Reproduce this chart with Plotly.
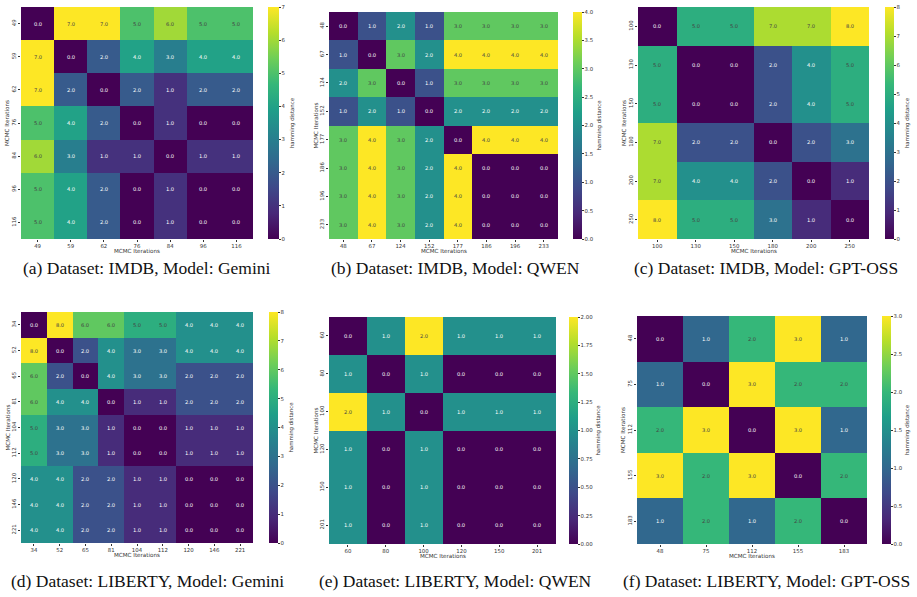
import plotly.graph_objects as go

W, H = 917, 597

a_labels = ["49", "59", "62", "76", "84", "96", "116"]
a_vals = [
    [0, 7, 7, 5, 6, 5, 5],
    [7, 0, 2, 4, 3, 4, 4],
    [7, 2, 0, 2, 1, 2, 2],
    [5, 4, 2, 0, 1, 0, 0],
    [6, 3, 1, 1, 0, 1, 1],
    [5, 4, 2, 0, 1, 0, 0],
    [5, 4, 2, 0, 1, 0, 0],
]

b_labels = ["48", "67", "124", "152", "177", "186", "196", "233"]
b_vals = [
    [0, 1, 2, 1, 3, 3, 3, 3],
    [1, 0, 3, 2, 4, 4, 4, 4],
    [2, 3, 0, 1, 3, 3, 3, 3],
    [1, 2, 1, 0, 2, 2, 2, 2],
    [3, 4, 3, 2, 0, 4, 4, 4],
    [3, 4, 3, 2, 4, 0, 0, 0],
    [3, 4, 3, 2, 4, 0, 0, 0],
    [3, 4, 3, 2, 4, 0, 0, 0],
]

c_labels = ["100", "130", "150", "180", "200", "250"]
c_vals = [
    [0, 5, 5, 7, 7, 8],
    [5, 0, 0, 2, 4, 5],
    [5, 0, 0, 2, 4, 5],
    [7, 2, 2, 0, 2, 3],
    [7, 4, 4, 2, 0, 1],
    [8, 5, 5, 3, 1, 0],
]

d_labels = ["34", "52", "65", "81", "104", "112", "120", "146", "221"]
d_vals = [
    [0, 8, 6, 6, 5, 5, 4, 4, 4],
    [8, 0, 2, 4, 3, 3, 4, 4, 4],
    [6, 2, 0, 4, 3, 3, 2, 2, 2],
    [6, 4, 4, 0, 1, 1, 2, 2, 2],
    [5, 3, 3, 1, 0, 0, 1, 1, 1],
    [5, 3, 3, 1, 0, 0, 1, 1, 1],
    [4, 4, 2, 2, 1, 1, 0, 0, 0],
    [4, 4, 2, 2, 1, 1, 0, 0, 0],
    [4, 4, 2, 2, 1, 1, 0, 0, 0],
]

e_labels = ["60", "80", "100", "120", "150", "201"]
e_vals = [
    [0, 1, 2, 1, 1, 1],
    [1, 0, 1, 0, 0, 0],
    [2, 1, 0, 1, 1, 1],
    [1, 0, 1, 0, 0, 0],
    [1, 0, 1, 0, 0, 0],
    [1, 0, 1, 0, 0, 0],
]

f_labels = ["48", "75", "112", "155", "183"]
f_vals = [
    [0, 1, 2, 3, 1],
    [1, 0, 3, 2, 2],
    [2, 3, 0, 3, 1],
    [3, 2, 3, 0, 2],
    [1, 2, 1, 2, 0],
]

captions = [
    "(a) Dataset: IMDB, Model: Gemini",
    "(b) Dataset: IMDB, Model: QWEN",
    "(c) Dataset: IMDB, Model: GPT-OSS",
    "(d) Dataset: LIBERTY, Model: Gemini",
    "(e) Dataset: LIBERTY, Model: QWEN",
    "(f) Dataset: LIBERTY, Model: GPT-OSS",
]

cbar_ticks = [
    ([0, 1, 2, 3, 4, 5, 6, 7], "%d"),
    ([0, 0.5, 1, 1.5, 2, 2.5, 3, 3.5, 4], "%.1f"),
    ([0, 1, 2, 3, 4, 5, 6, 7, 8], "%d"),
    ([0, 1, 2, 3, 4, 5, 6, 7, 8], "%d"),
    ([0, 0.25, 0.5, 0.75, 1, 1.25, 1.5, 1.75, 2], "%.2f"),
    ([0, 0.5, 1, 1.5, 2, 2.5, 3], "%.1f"),
]

panels = [
    (a_labels, a_vals),
    (b_labels, b_vals),
    (c_labels, c_vals),
    (d_labels, d_vals),
    (e_labels, e_vals),
    (f_labels, f_vals),
]

# geometry in pixels: heatmap (x0, x1, y0, y1), colorbar (x0, width)
geom = [
    ((21, 253, 7, 239), (268, 11)),
    ((329, 558, 12, 239), (573, 9)),
    ((638, 869, 7, 239), (885, 9)),
    ((21, 253, 312, 543), (269, 9)),
    ((329, 556, 317, 544), (569, 9)),
    ((637, 867, 316, 544), (882, 9)),
]
caption_pos = [(147, 268), (455, 268), (766, 268), (147, 581), (455, 581), (766, 581)]

TICKFONT = dict(family="DejaVu Sans", size=5.4, color="#333333")

fig = go.Figure()
annotations = []

for i, ((labels, vals), ((x0, x1, y0, y1), (cbx, cbw))) in enumerate(zip(panels, geom)):
    n = i + 1
    ax = "" if n == 1 else str(n)
    tickvals, fmt = cbar_ticks[i]
    ticktext = [fmt % t for t in tickvals]
    zmax = max(max(r) for r in vals)
    fig.add_trace(go.Heatmap(
        z=vals, x=labels, y=labels,
        xaxis="x" + ax, yaxis="y" + ax,
        coloraxis="coloraxis" + ax,
        texttemplate="%{z:.1f}",
        textfont=dict(family="DejaVu Sans", size=5.2),
        hoverinfo="skip",
    ))
    fig.update_layout(**{
        "xaxis" + ax: dict(
            domain=[x0 / W, x1 / W], anchor="y" + ax, type="category",
            showgrid=False, zeroline=False, showline=False,
            ticks="outside", ticklen=2, tickwidth=0.6, tickcolor="#333333",
            tickfont=TICKFONT, tickangle=0,
        ),
        "yaxis" + ax: dict(
            domain=[1 - y1 / H, 1 - y0 / H], anchor="x" + ax, type="category",
            autorange="reversed",
            showgrid=False, zeroline=False, showline=False,
            ticks="outside", ticklen=2, tickwidth=0.6, tickcolor="#333333",
            tickfont=TICKFONT, tickangle=-90,
        ),
        "coloraxis" + ax: dict(
            colorscale="Viridis", cmin=0, cmax=zmax,
            colorbar=dict(
                x=cbx / W, xanchor="left", xpad=0,
                y=1 - y0 / H, yanchor="top", ypad=0,
                len=(y1 - y0), lenmode="pixels",
                thickness=cbw, thicknessmode="pixels",
                outlinewidth=0,
                ticks="outside", ticklen=2, tickwidth=0.6, tickcolor="#333333",
                tickvals=tickvals, ticktext=ticktext,
                tickfont=TICKFONT,
                title=dict(text="hamming distance", side="right",
                           font=dict(family="DejaVu Sans", size=5.4, color="#333333")),
            ),
        ),
    })
    # axis labels
    annotations.append(dict(
        text="MCMC Iterations", x=(x0 + x1) / 2 / W, y=1 - (y1 + 11.5) / H,
        xref="paper", yref="paper", xanchor="center", yanchor="middle",
        showarrow=False, font=dict(family="DejaVu Sans", size=5.6, color="#333333"),
    ))
    annotations.append(dict(
        text="MCMC Iterations", x=(x0 - 14) / W, y=1 - (y0 + y1) / 2 / H,
        xref="paper", yref="paper", xanchor="center", yanchor="middle",
        textangle=-90,
        showarrow=False, font=dict(family="DejaVu Sans", size=5.6, color="#333333"),
    ))
    cx, cy = caption_pos[i]
    annotations.append(dict(
        text=captions[i], x=cx / W, y=1 - cy / H,
        xref="paper", yref="paper", xanchor="center", yanchor="middle",
        showarrow=False, font=dict(family="Liberation Serif", size=17.5, color="#111111"),
    ))

fig.update_layout(
    width=W, height=H,
    margin=dict(l=0, r=0, t=0, b=0),
    paper_bgcolor="white", plot_bgcolor="white",
    showlegend=False,
    annotations=annotations,
)

fig.write_html("out.html")
